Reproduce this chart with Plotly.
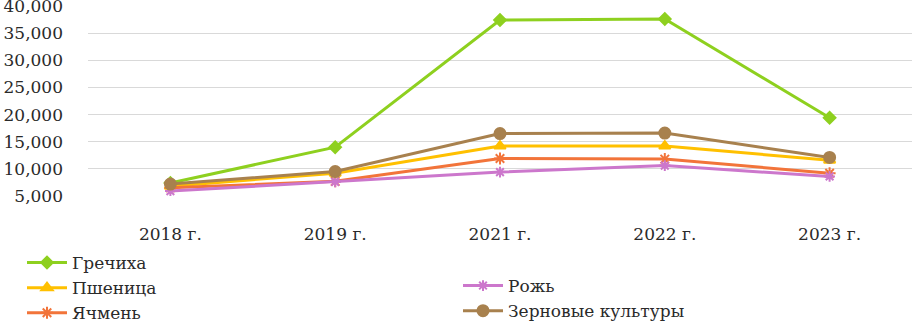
import plotly.graph_objects as go

years = ["2018 г.", "2019 г.", "2021 г.", "2022 г.", "2023 г."]
grechikha = [7400, 14000, 37400, 37600, 19400]
pshenitsa = [6800, 9200, 14200, 14200, 11600]
yachmen = [6500, 7700, 11900, 11800, 9200]
rozh = [5900, 7600, 9400, 10600, 8600]
zernovye = [7200, 9500, 16500, 16600, 12100]
y_ticks = [5000, 10000, 15000, 20000, 25000, 30000, 35000, 40000]

FONT = "DejaVu Serif, Liberation Serif, serif"
TXT = "#2a2a2a"

W, H = 914, 324

series = [
    ("Гречиха", grechikha, "#8ED01F", "diamond", 9, "legend"),
    ("Пшеница", pshenitsa, "#FFC000", "triangle-up", 10, "legend"),
    ("Ячмень", yachmen, "#F2743A", "asterisk-open", 10, "legend"),
    ("Рожь", rozh, "#CC77CC", "asterisk-open", 9, "legend2"),
    ("Зерновые культуры", zernovye, "#A8814E", "circle", 11, "legend2"),
]

fig = go.Figure()
for name, vals, color, sym, size, lg in series:
    fig.add_trace(go.Scatter(
        x=years, y=vals, name=name, mode="lines+markers",
        line=dict(color=color, width=3),
        marker=dict(symbol=sym, size=size, color=color,
                    line=dict(color=color, width=2)),
        legend=lg,
    ))

legend_common = dict(
    orientation="v", xref="container", yref="container",
    xanchor="left", yanchor="top", traceorder="normal",
    font=dict(family=FONT, size=17, color=TXT),
    itemwidth=40, bgcolor="rgba(0,0,0,0)", tracegroupgap=0,
)

fig.update_layout(
    width=W, height=H,
    margin=dict(l=88, r=2, t=6, b=128, autoexpand=False),
    paper_bgcolor="white", plot_bgcolor="white",
    font=dict(family=FONT, size=17, color=TXT),
    showlegend=True,
    legend=dict(x=22 / W, y=1 - 245 / H, **legend_common),
    legend2=dict(x=458 / W, y=1 - 268 / H, **legend_common),
    xaxis=dict(
        type="category", range=[-0.5, 4.5],
        showgrid=False, showline=False, zeroline=False,
        ticks="", ticklabelstandoff=26, automargin=False,
        tickfont=dict(family=FONT, size=17, color=TXT),
    ),
    yaxis=dict(
        range=[5000, 40000], tickvals=y_ticks, tickformat=",d",
        showgrid=True, gridcolor="#D9D9D9", gridwidth=1,
        zeroline=False, showline=False, ticks="", automargin=False,
        ticklabelstandoff=24, ticklabeloverflow="allow",
        tickfont=dict(family=FONT, size=17, color=TXT),
    ),
)

fig.write_html("out.html", config={"displayModeBar": False},
               post_script="document.body.style.margin='0';")
